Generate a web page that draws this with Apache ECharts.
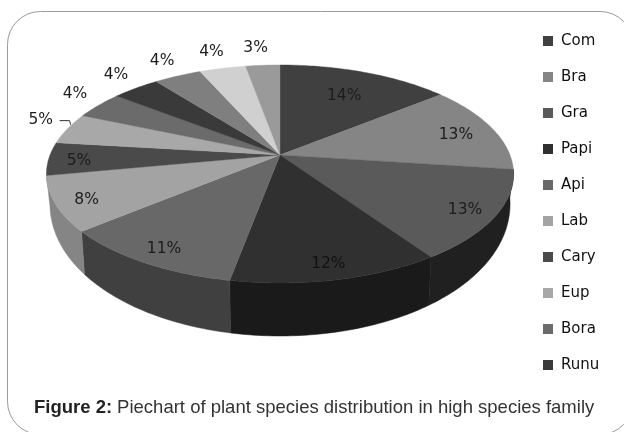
<!DOCTYPE html>
<html>
<head>
<meta charset="utf-8">
<style>html,body{margin:0;padding:0;background:#fff}#c{width:624px;height:432px}</style>
<script src="https://cdn.jsdelivr.net/npm/echarts@6/dist/echarts.min.js"></script>
</head>
<body>
<div id="c"></div>
<script>
// Families named in the legend (the reference lists only the first ten of thirteen slices)
const legendNames = ['Com','Bra','Gra','Papi','Api','Lab','Cary','Eup','Bora','Runu'];
// Share of each slice, clockwise from 12 o'clock (labels show them rounded)
const shares = [14.1,13,13.4,12.4,11,8.1,4.9,4.6,4.1,3.9,3.9,3.8,2.8];
const topColors = ['#404040','#858585','#5a5a5a','#303030','#686868','#a3a3a3','#4a4a4a','#a8a8a8','#6b6b6b','#3a3a3a','#7f7f7f','#d0d0d0','#9a9a9a'];
const wallColors = ['#2a2a2a','#505050','#202020','#1a1a1a','#404040','#858585','#333333','#777777','#444444','#2a2a2a','#555555','#888888','#666666'];
const firstOutsideLabel = 7;

// Tilted-disc projection
const cx = 280, cy = 155, A = 230, B = 105.7, P = 0.174;
function project(r, pct) {
  const t = pct * 3.6 * Math.PI / 180;
  const u = r * Math.sin(t), v = r * Math.cos(t), w = 1 + P * v;
  return [cx + A * u / w, cy - B * v / w];
}
function rimBottom(pct) {
  const t = pct * 3.6 * Math.PI / 180, v = Math.cos(t);
  const p = project(1, pct);
  return [cx + (p[0] - cx) * 0.985, p[1] + 25 - 28 * Math.min(v, 0)];
}
const total = shares.reduce((a, b) => a + b, 0);
const starts = []; let acc = 0;
shares.forEach(s => { starts.push(acc / total * 100); acc += s; });
const ends = starts.map((s, i) => s + shares[i] / total * 100);
function samples(a, b) {
  const out = [], n = Math.max(2, Math.ceil((b - a) * 3.6));
  for (let i = 0; i <= n; i++) out.push(a + (b - a) * i / n);
  return out;
}
function sliceName(i) { return legendNames[i] || ('Other ' + (i - legendNames.length + 1)); }
function midCos(i) { return Math.cos((starts[i] + ends[i]) / 2 * 3.6 * Math.PI / 180); }

const wallSeries = {
  type: 'custom', coordinateSystem: 'none', silent: true, z: 1,
  data: shares.map((s, i) => [starts[i], ends[i]]),
  renderItem(params, api) {
    // only the walls facing the viewer are visible
    if (midCos(params.dataIndex) > -0.1) return null;
    const pcts = samples(api.value(0), api.value(1));
    const pts = pcts.map(p => project(1, p)).concat(pcts.slice().reverse().map(rimBottom));
    const c = wallColors[params.dataIndex];
    return { type: 'polygon', shape: { points: pts }, style: { fill: c, stroke: c, lineWidth: 0.5 } };
  }
};
const topSeries = shares.map((s, i) => ({
  type: 'custom', coordinateSystem: 'none', silent: true, z: 2,
  name: sliceName(i),
  itemStyle: { color: topColors[i] },
  data: [[starts[i], ends[i]]],
  renderItem(params, api) {
    const pts = [[cx, cy]].concat(samples(api.value(0), api.value(1)).map(p => project(1, p)));
    return { type: 'polygon', shape: { points: pts }, style: { fill: topColors[i], stroke: topColors[i], lineWidth: 0.4 } };
  }
}));
const labelSeries = {
  type: 'custom', coordinateSystem: 'none', silent: true, z: 3,
  data: shares.map((s, i) => [(starts[i] + ends[i]) / 2, Math.round(s)]),
  renderItem(params, api) {
    const mid = api.value(0), i = params.dataIndex;
    const v = Math.cos(mid * 3.6 * Math.PI / 180);
    const outside = i >= firstOutsideLabel;
    const r = outside ? 1.12 : 0.87 - 0.16 * Math.max(v, 0);
    const p = project(r, outside ? mid - 0.4 : mid);
    const kids = [{
      type: 'text', x: p[0], y: p[1] + (outside ? -8 : 3),
      style: { text: api.value(1) + '%', fill: i === 3 ? '#111' : '#1c1c1c',
               font: '15.5px "DejaVu Sans"', align: 'center', verticalAlign: 'middle' }
    }];
    if (i === firstOutsideLabel) {
      const e = project(1, mid);
      kids.push({ type: 'polyline',
        shape: { points: [[e[0] + 3, e[1] - 4], [e[0] + 2, e[1] - 8], [e[0] - 8, e[1] - 8]] },
        style: { stroke: '#333', lineWidth: 1, fill: null } });
    }
    return { type: 'group', children: kids };
  }
};

const chart = echarts.init(document.getElementById('c'), null, { renderer: 'canvas' });
chart.setOption({
  animation: false,
  backgroundColor: '#fff',
  title: {
    left: 34, top: 398, padding: 0,
    text: '{b|Figure 2:} {n|Piechart of plant species distribution in high species family}',
    textStyle: { fontWeight: 'normal', rich: {
      b: { fontFamily: '"Liberation Sans"', fontSize: 18.5, fontWeight: 'bold', color: '#222' },
      n: { fontFamily: '"Liberation Sans"', fontSize: 18.5, fontWeight: 'normal', color: '#333' }
    } }
  },
  legend: {
    orient: 'vertical', left: 543, top: 32, padding: 0,
    data: legendNames, icon: 'rect', itemWidth: 10, itemHeight: 10, itemGap: 18, selectedMode: false,
    textStyle: { fontFamily: '"DejaVu Sans"', fontSize: 15, color: '#111', lineHeight: 18, padding: [0, 0, 0, 3] }
  },
  graphic: [{
    type: 'rect', silent: true, z: 0,
    shape: { x: 7.5, y: 11.5, width: 625.5, height: 423, r: 33 },
    style: { fill: '#fff', stroke: '#9a9a9a', lineWidth: 1 }
  }],
  series: [wallSeries].concat(topSeries, [labelSeries])
});
</script>
</body>
</html>
